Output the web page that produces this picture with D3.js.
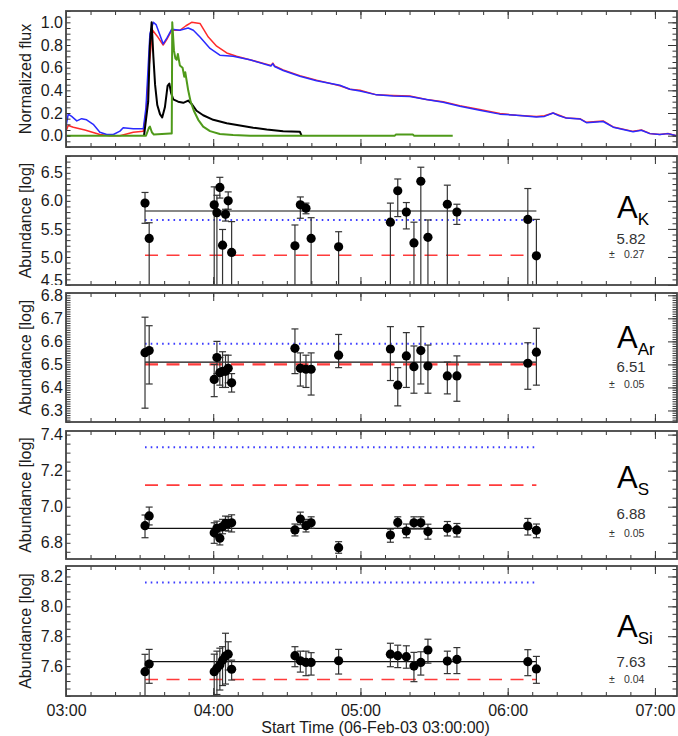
<!DOCTYPE html>
<html>
<head>
<meta charset="utf-8">
<script src="https://cdn.jsdelivr.net/npm/d3@7"></script>
<style>
  html, body { margin: 0; padding: 0; background: #fff; }
  svg text { font-family: "Liberation Sans", Arial, sans-serif; }
</style>
</head>
<body>
<svg id="chart" width="678" height="736"></svg>
<script>
// ---- Light curves (minutes after 03:00 UT, normalized flux) ----
const fluxRedT = [0,0.9,3,7.7,13.8,17.9,22,27.4,31.5,32.6,33.8,35.3,37.1,39.6,41.1,43.1,46.4,48.9,51.2,54.6,58,61.4,65.5,69.5,74.9,83.5,84.3,85,88.5,95.3,102.1,111.6,115.7,119.8,126.6,133.3,140.1,146.9,153.7,160.5,168.6,176.8,183.6,191.7,195,198.5,201,203.9,209.4,212.1,218.9,223,231.1,234.5,237.9,242,245.3,248.8];
const fluxRedV = [0.04,0.09,0.075,0.05,0.01,0,0,0.03,0.04,0.2,0.6,0.93,0.88,0.80,0.85,0.93,0.93,0.97,1.0,0.99,0.87,0.79,0.73,0.70,0.67,0.62,0.64,0.615,0.58,0.53,0.49,0.44,0.41,0.40,0.36,0.355,0.35,0.32,0.30,0.265,0.23,0.195,0.18,0.17,0.175,0.20,0.18,0.156,0.15,0.118,0.13,0.077,0.038,0.05,0.02,0.01,0.02,0.0];

const fluxBlueT = [0,0.9,2.3,4.4,6.4,8.4,11.1,13.8,16.6,19.3,22,23.3,27.4,31.5,32.6,34.2,35.6,36.7,39.6,41.1,43.1,46.4,49.8,51.9,54.6,58.7,62.7,68.1,74.9,83.5,84.3,85,88.5,95.3,102.1,111.6,115.7,119.8,126.6,133.3,140.1,146.9,153.7,160.5,168.6,176.8,183.6,191.7,195,198.5,201,203.9,209.4,212.1,218.9,223,231.1,234.5,237.9,242,245.3,248.8];
const fluxBlueV = [0.08,0.19,0.17,0.13,0.15,0.14,0.10,0.03,0.01,0.01,0.04,0.07,0.06,0.06,0.25,0.9,1.0,0.98,0.81,0.86,0.94,0.93,0.95,0.93,0.87,0.77,0.71,0.70,0.67,0.615,0.635,0.61,0.575,0.525,0.485,0.445,0.41,0.395,0.36,0.35,0.345,0.32,0.295,0.26,0.225,0.19,0.18,0.165,0.17,0.20,0.175,0.155,0.148,0.115,0.125,0.075,0.035,0.048,0.018,0.01,0.018,0.0];

const fluxBlackT = [31.8,33.5,34.2,34.9,35.6,36.3,37.2,38.3,39.2,40.3,41.4,42.1,42.8,43.7,45.7,47.8,49.8,51.2,53.2,55.9,60,65.5,70.9,76.3,81.8,88.5,95.3,96];
const fluxBlackV = [0,0.3,0.8,1.0,0.7,0.45,0.27,0.19,0.16,0.25,0.44,0.46,0.38,0.32,0.30,0.29,0.31,0.28,0.22,0.18,0.14,0.11,0.09,0.07,0.055,0.04,0.035,0];

const fluxGreenT = [0,32.6,33.8,34.2,35,35.8,42.4,43.1,43.3,44,44.6,45.1,45.6,46.4,47.5,48.2,48.6,49.2,49.8,50.8,52.1,53.9,55.9,58.7,62.7,68.1,75,134,134.4,141.4,141.8,157.6];
const fluxGreenV = [0,0,0.07,0.08,0.03,0.01,0.02,0.02,1.0,0.75,0.68,0.67,0.72,0.62,0.60,0.52,0.56,0.48,0.40,0.30,0.22,0.14,0.08,0.04,0.015,0.005,0,0,0.01,0.01,0,0];

// ---- Abundance measurements (start times of the integrations) ----
const obsTimes = ["03:32:12","03:33:54","04:00:24","04:01:30","04:02:42","04:03:48","04:05:00","04:06:06","04:07:30",
                  "04:33:18","04:35:30","04:37:48","04:39:54","04:51:06","05:12:12","05:15:12","05:18:42","05:21:48",
                  "05:24:36","05:27:30","05:35:24","05:39:18","06:08:12","06:11:42"];

const kVal = [5.96,5.33,5.93,5.79,6.24,5.21,5.76,6.00,5.08,5.20,5.93,5.87,5.33,5.18,5.62,6.18,5.80,5.25,6.35,5.35,5.94,5.80,5.67,5.02];
const kHi  = [6.15,5.61,6.25,6.10,6.42,5.49,5.85,6.16,5.63,5.57,6.07,5.96,5.70,5.45,5.96,6.39,5.97,5.62,6.60,5.66,6.28,5.94,6.22,5.67];
const kLo  = [5.60,4.30,4.30,4.30,6.05,4.30,5.64,5.85,4.30,4.30,5.69,5.77,4.30,4.30,4.30,5.72,5.50,4.30,4.30,4.30,4.30,5.58,4.30,4.30];

const arVal = [6.551,6.56,6.435,6.53,6.464,6.47,6.47,6.483,6.42,6.57,6.483,6.479,6.479,6.54,6.567,6.41,6.537,6.49,6.56,6.493,6.45,6.45,6.505,6.553];
const arHi  = [6.705,6.668,6.50,6.60,6.53,6.555,6.54,6.54,6.46,6.654,6.55,6.54,6.55,6.63,6.664,6.486,6.638,6.58,6.664,6.584,6.51,6.537,6.594,6.657];
const arLo  = [6.31,6.415,6.36,6.46,6.41,6.40,6.40,6.42,6.38,6.46,6.406,6.40,6.367,6.486,6.43,6.32,6.40,6.375,6.415,6.375,6.372,6.34,6.392,6.41];

const sVal = [6.895,6.949,6.856,6.88,6.825,6.89,6.908,6.905,6.911,6.871,6.932,6.895,6.911,6.773,6.843,6.913,6.865,6.911,6.911,6.862,6.88,6.871,6.893,6.869];
const sHi  = [6.954,6.998,6.911,6.92,6.865,6.93,6.948,6.945,6.955,6.904,6.97,6.93,6.944,6.806,6.876,6.944,6.904,6.944,6.944,6.903,6.918,6.907,6.935,6.904];
const sLo  = [6.828,6.899,6.797,6.83,6.788,6.85,6.868,6.865,6.86,6.838,6.90,6.86,6.88,6.742,6.803,6.88,6.828,6.876,6.876,6.82,6.838,6.832,6.843,6.828];

const siVal = [7.563,7.614,7.563,7.585,7.607,7.64,7.667,7.68,7.579,7.67,7.636,7.625,7.625,7.636,7.68,7.67,7.663,7.60,7.625,7.708,7.634,7.645,7.63,7.581];
const siHi  = [7.679,7.712,7.68,7.70,7.72,7.73,7.82,7.763,7.64,7.73,7.70,7.70,7.69,7.712,7.753,7.74,7.736,7.692,7.696,7.78,7.70,7.724,7.71,7.665];
const siLo  = [7.40,7.485,7.40,7.41,7.44,7.47,7.48,7.574,7.507,7.596,7.56,7.536,7.54,7.547,7.596,7.59,7.586,7.496,7.54,7.62,7.55,7.55,7.536,7.485];

// mean abundance, its uncertainty, and the two reference levels (dotted blue, dashed red)
const elements   = ["K", "Ar", "S", "Si"];
const meanAbund  = [5.82, 6.51, 6.88, 7.63];
const meanErr    = [0.27, 0.05, 0.05, 0.04];
const refBlue    = [5.66, 6.59, 7.33, 8.16];
const refRed     = [5.03, 6.50, 7.12, 7.51];

// axis ticks
const fluxTicks = [0.0, 0.2, 0.4, 0.6, 0.8, 1.0];
const kTicks  = [4.5, 5.0, 5.5, 6.0, 6.5];
const arTicks = [6.3, 6.4, 6.5, 6.6, 6.7, 6.8];
const sTicks  = [6.8, 7.0, 7.2, 7.4];
const siTicks = [7.6, 7.8, 8.0, 8.2];
const timeTicks = ["03:00", "04:00", "05:00", "06:00", "07:00"];

// ---- layout ----
const svg = d3.select("#chart");
const L = 66, R = 677;
const day = (h, m, s) => new Date(2003, 1, 6, h, m, s || 0);
const t0 = day(3, 0);
const fromMin = m => new Date(t0.getTime() + m * 60000);
const parseT = s => { const [h, m, sec] = s.split(":").map(Number); return day(h, m, sec); };

const x = d3.scaleTime().domain([t0, fromMin(249)]).range([L, R]);
const obsDates = obsTimes.map(parseT);
const tickDates = timeTicks.map(s => parseT(s + ":00"));
const minorDates = d3.timeMinute.every(10).range(t0, fromMin(249.5));

const INK = "#1b1b1b";
const FRAME = "#444";
const defs = svg.append("defs");

function frameAxes(g, y, top, bottom, majors, minorStep, showXLabels, clipId) {
  const [d0, d1] = y.domain();
  const minors = d3.range(Math.ceil(d0 / minorStep - 1e-6), Math.floor(d1 / minorStep + 1e-6) + 1).map(i => +(i * minorStep).toFixed(4));

  // y ticks (inward on both sides)
  const yMinorL = d3.axisLeft(y).tickValues(minors).tickSize(-4.5).tickFormat("");
  const yMajorL = d3.axisLeft(y).tickValues(majors).tickSize(-9).tickPadding(3).tickFormat(d3.format(".1f"));
  const yMinorR = d3.axisRight(y).tickValues(minors).tickSize(-4.5).tickFormat("");
  const yMajorR = d3.axisRight(y).tickValues(majors).tickSize(-9).tickFormat("");
  g.append("g").attr("transform", `translate(${L},0)`).call(yMinorL);
  const labWrap = g.append("g").attr("clip-path", `url(#${clipId}-lab)`);
  const lab = labWrap.append("g").attr("transform", `translate(${L},0)`).call(yMajorL);
  lab.selectAll("text").attr("font-size", 16).attr("fill", INK)
    // a label sitting on the lower frame edge is lifted slightly, the rest stay centred on their tick
    .attr("y", d => (Math.abs(d - d0) < 1e-6 ? -5 : 0));
  g.append("g").attr("transform", `translate(${R},0)`).call(yMinorR);
  g.append("g").attr("transform", `translate(${R},0)`).call(yMajorR);

  // time ticks (inward, top and bottom)
  g.append("g").attr("transform", `translate(0,${bottom})`).call(d3.axisBottom(x).tickValues(minorDates).tickSize(-4).tickFormat(""));
  const xb = g.append("g").attr("transform", `translate(0,${bottom})`)
    .call(d3.axisBottom(x).tickValues(tickDates).tickSize(-8).tickPadding(9)
      .tickFormat(showXLabels ? d3.timeFormat("%H:%M") : ""));
  xb.selectAll("text").attr("font-size", 16).attr("fill", INK);
  g.append("g").attr("transform", `translate(0,${top})`).call(d3.axisTop(x).tickValues(minorDates).tickSize(-4).tickFormat(""));
  g.append("g").attr("transform", `translate(0,${top})`).call(d3.axisTop(x).tickValues(tickDates).tickSize(-8).tickFormat(""));

  g.selectAll(".domain").remove();
  g.selectAll(".tick line").attr("stroke", "#333").attr("stroke-width", 1);

  g.append("rect").attr("x", L).attr("y", top).attr("width", R - L).attr("height", bottom - top)
    .attr("fill", "none").attr("stroke", FRAME).attr("stroke-width", 1.8);
}

function addClip(id, top, bottom) {
  defs.append("clipPath").attr("id", id).append("rect")
    .attr("x", L).attr("y", top).attr("width", R - L).attr("height", bottom - top);
  defs.append("clipPath").attr("id", id + "-lab").append("rect")
    .attr("x", 0).attr("y", top - 14).attr("width", L).attr("height", bottom - top + 14);
}

function yTitle(text, top, bottom) {
  svg.append("text").attr("transform", `translate(31,${(top + bottom) / 2}) rotate(-90)`)
    .attr("text-anchor", "middle").attr("font-size", 16).attr("fill", INK).text(text);
}

svg.append("rect").attr("width", 678).attr("height", 736).attr("fill", "#fff");

// ---- light-curve panel ----
{
  const top = 11, bottom = 147;
  const y = d3.scaleLinear().domain([-0.1, 1.1]).range([bottom, top]);
  addClip("clip-flux", top, bottom);
  const g = svg.append("g");
  const curves = g.append("g").attr("clip-path", "url(#clip-flux)");
  const line = d3.line().x(d => x(fromMin(d[0]))).y(d => y(d[1]));
  const series = [
    [fluxRedT, fluxRedV, "#ff2a2a", 1.5],
    [fluxBlueT, fluxBlueV, "#2a2aff", 1.5],
    [fluxBlackT, fluxBlackV, "#000000", 2],
    [fluxGreenT, fluxGreenV, "#4f9a1a", 2]
  ];
  series.forEach(([ts, vs, col, w]) => {
    curves.append("path").datum(ts.map((t, i) => [t, vs[i]]))
      .attr("d", line).attr("fill", "none").attr("stroke", col).attr("stroke-width", w)
      .attr("stroke-linejoin", "round");
  });
  frameAxes(g, y, top, bottom, fluxTicks, 0.05, false, "clip-flux");
  yTitle("Normalized flux", top, bottom);
}

// ---- abundance panels ----
const panels = [
  { top: 156, bottom: 285, domain: [4.5, 6.8],   ticks: kTicks,  minor: 0.1,  val: kVal,  lo: kLo,  hi: kHi,  aY: 218, vY: 244, eY: 258 },
  { top: 293, bottom: 422, domain: [6.25, 6.81], ticks: arTicks, minor: 0.01, val: arVal, lo: arLo, hi: arHi, aY: 348, vY: 372, eY: 388 },
  { top: 431, bottom: 559, domain: [6.71, 7.42], ticks: sTicks,  minor: 0.05, val: sVal,  lo: sLo,  hi: sHi,  aY: 488, vY: 519, eY: 537 },
  { top: 566, bottom: 696, domain: [7.4, 8.27],  ticks: siTicks, minor: 0.05, val: siVal, lo: siLo, hi: siHi, aY: 637, vY: 667, eY: 683 }
];

panels.forEach((p, k) => {
  const y = d3.scaleLinear().domain(p.domain).range([p.bottom, p.top]);
  const id = "clip-" + elements[k];
  addClip(id, p.top, p.bottom);
  const g = svg.append("g");
  const plot = g.append("g").attr("clip-path", `url(#${id})`);
  const xa = x(obsDates[0]), xz = x(obsDates[obsDates.length - 1]);

  // reference levels
  plot.append("line").attr("x1", xa).attr("x2", xz).attr("y1", y(meanAbund[k])).attr("y2", y(meanAbund[k]))
    .attr("stroke", "#111").attr("stroke-width", 1.1);
  plot.append("line").attr("x1", xa).attr("x2", xz).attr("y1", y(refBlue[k])).attr("y2", y(refBlue[k]))
    .attr("stroke", "#3b3bff").attr("stroke-width", 2).attr("stroke-dasharray", "1.6,4.1");
  plot.append("line").attr("x1", xa).attr("x2", xz).attr("y1", y(refRed[k])).attr("y2", y(refRed[k]))
    .attr("stroke", "#ff3b3b").attr("stroke-width", k === 1 ? 2.4 : 1.6).attr("stroke-dasharray", "13,8.5");

  // error bars
  const bars = plot.append("g").attr("stroke", "#333").attr("stroke-width", 1.2);
  obsDates.forEach((t, i) => {
    const cx = x(t);
    bars.append("line").attr("x1", cx).attr("x2", cx).attr("y1", y(p.lo[i])).attr("y2", y(p.hi[i]));
    [p.lo[i], p.hi[i]].forEach(v => {
      bars.append("line").attr("x1", cx - 3.5).attr("x2", cx + 3.5).attr("y1", y(v)).attr("y2", y(v));
    });
  });
  // measurements
  plot.append("g").selectAll("circle").data(p.val).join("circle")
    .attr("cx", (d, i) => x(obsDates[i])).attr("cy", d => y(d)).attr("r", 4.6).attr("fill", "#000");

  frameAxes(g, y, p.top, p.bottom, p.ticks, p.minor, k === panels.length - 1, id);
  yTitle("Abundance [log]", p.top, p.bottom);

  // element label with mean ± error
  const lbl = svg.append("text").attr("x", 617).attr("y", p.aY).attr("fill", "#000");
  lbl.append("tspan").attr("font-size", 31).text("A");
  lbl.append("tspan").attr("font-size", 17).attr("dy", 7).text(elements[k]);
  svg.append("text").attr("x", 631).attr("y", p.vY).attr("text-anchor", "middle")
    .attr("font-size", 15).attr("fill", "#333").text(meanAbund[k].toFixed(2));
  const e = svg.append("text").attr("y", p.eY).attr("font-size", 10.5).attr("fill", "#333");
  e.append("tspan").attr("x", 609).text("±");
  e.append("tspan").attr("x", 624).text(meanErr[k].toFixed(2));
});

// time axis title
svg.append("text").attr("x", (L + R) / 2 + 4).attr("y", 733).attr("text-anchor", "middle")
  .attr("font-size", 16).attr("fill", INK).text("Start Time (06-Feb-03 03:00:00)");
</script>
</body>
</html>
